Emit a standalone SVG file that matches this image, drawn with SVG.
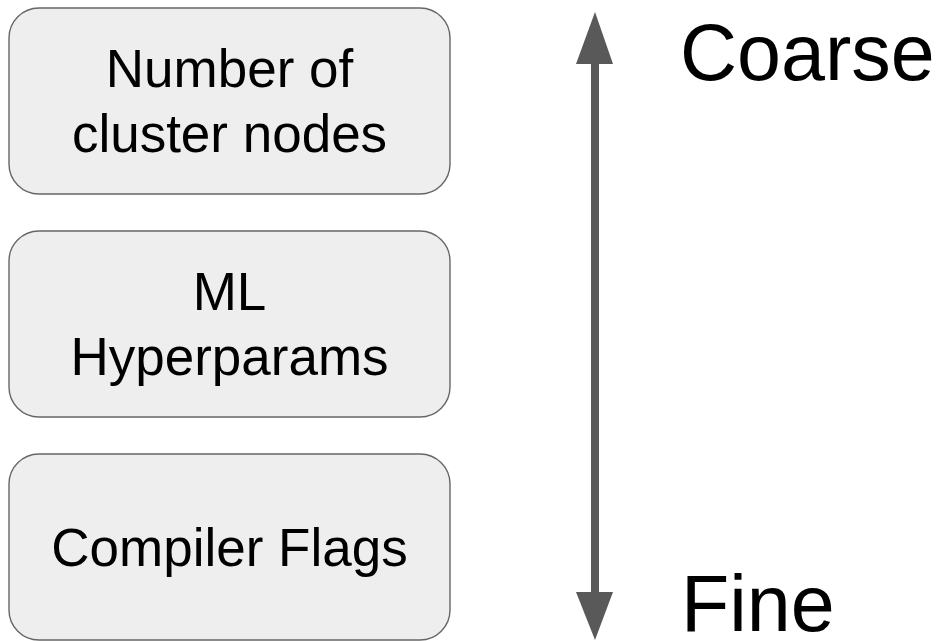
<svg xmlns="http://www.w3.org/2000/svg" width="940" height="641" viewBox="0 0 940 641">
  <style>
    .box { fill: #eeeeee; stroke: #666666; stroke-width: 1.4; }
    .lbl { font-family: "Liberation Sans", Arial, sans-serif; font-size: 53px; fill: #000000; text-anchor: middle; }
    .scale { font-family: "Liberation Sans", Arial, sans-serif; font-size: 79px; fill: #000000; }
    .shaft { stroke: #595959; stroke-width: 8; fill: none; }
    .head { fill: #595959; }
  </style>
  <rect width="940" height="641" fill="#ffffff"/>

  <g id="node-cluster">
    <rect class="box" x="9" y="8" width="441" height="186" rx="30" ry="30"/>
    <text class="lbl" x="229.5" y="87">Number of</text>
    <text class="lbl" x="229.5" y="152">cluster nodes</text>
  </g>

  <g id="node-hyperparams">
    <rect class="box" x="9" y="231" width="441" height="186" rx="30" ry="30"/>
    <text class="lbl" x="229.5" y="310">ML</text>
    <text class="lbl" x="229.5" y="375">Hyperparams</text>
  </g>

  <g id="node-compiler">
    <rect class="box" x="9" y="454" width="441" height="186" rx="30" ry="30"/>
    <text class="lbl" x="229.5" y="566">Compiler Flags</text>
  </g>

  <g id="connectors">
    <line class="shaft" x1="595" y1="60" x2="595" y2="596"/>
    <polygon class="head" points="595,12 576,64 613,64"/>
    <polygon class="head" points="595,640 576,592 613,592"/>
  </g>

  <g id="scale-labels">
    <text class="scale" x="680" y="80">Coarse</text>
    <text class="scale" x="681" y="631">Fine</text>
  </g>
</svg>
